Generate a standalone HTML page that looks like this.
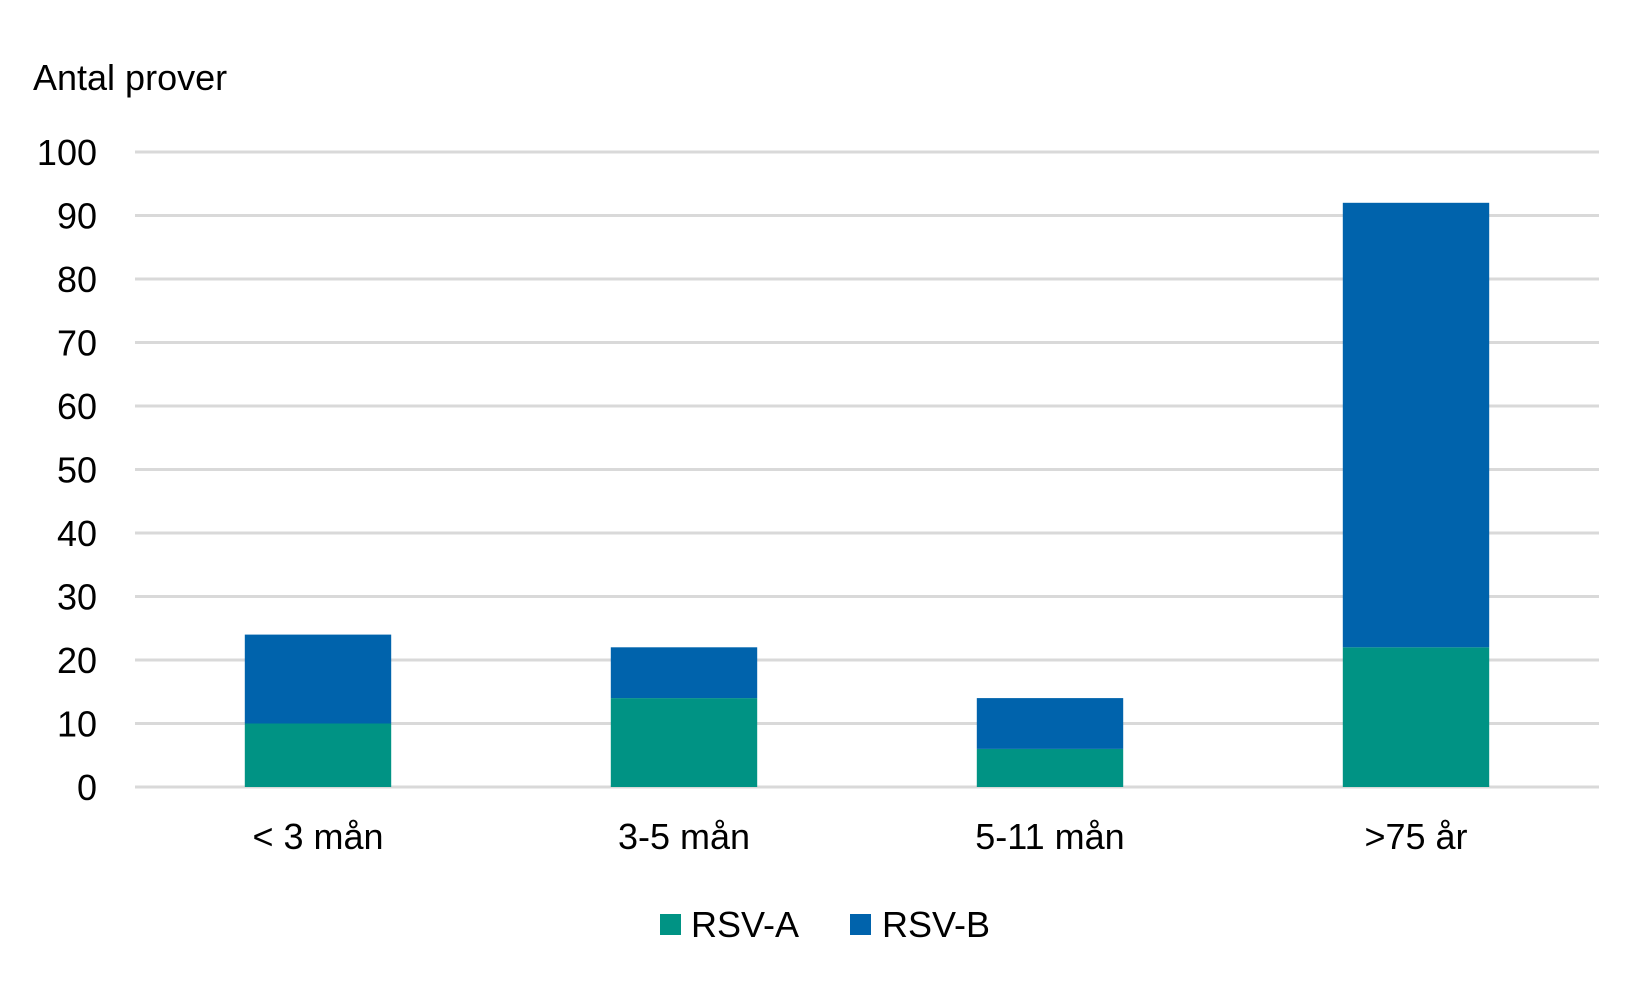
<!DOCTYPE html>
<html><head><meta charset="utf-8"><style>
body{margin:0;background:#fff}
svg text{font-family:"Liberation Sans",Arial,sans-serif;fill:#000}
</style></head><body>
<svg id="chart" width="1650" height="989" xmlns="http://www.w3.org/2000/svg">
<text x="33" y="90" font-size="36">Antal prover</text>
<g id="grid"></g><g id="bars"></g><g id="xl"></g>
<g>
<rect x="660" y="914" width="21" height="21" fill="#009384"/>
<text x="691" y="937" font-size="36">RSV-A</text>
<rect x="850" y="914" width="21" height="21" fill="#0063AC"/>
<text x="882" y="937" font-size="36">RSV-B</text>
</g>
</svg>
<script>
const categories=["< 3 mån","3-5 mån","5-11 mån",">75 år"];
const rsvA=[10,14,6,22];
const rsvB=[14,8,8,70];
const yTicks=[0,10,20,30,40,50,60,70,80,90,100];
const NS="http://www.w3.org/2000/svg";
const x0=135,x1=1599,yBase=787,yTop=152,yMax=100;
const y=v=>yBase-(v/yMax)*(yBase-yTop);
const band=(x1-x0)/categories.length;
const bw=band*0.4;
function mk(t,a,p){const e=document.createElementNS(NS,t);for(const k in a)e.setAttribute(k,a[k]);p.appendChild(e);return e;}
const g=document.getElementById('grid'),b=document.getElementById('bars'),xl=document.getElementById('xl');
yTicks.forEach(v=>{
 const l=mk('line',{x1:x0,x2:x1,y1:y(v),y2:y(v),stroke:'#d9d9d9','stroke-width':3},g);
 
 
 const t=mk('text',{x:97,y:y(v)+13,'text-anchor':'end','font-size':36},g);
 t.textContent=v;
 
 
});
categories.forEach((c,i)=>{
 const cx=x0+band*(i+0.5);
 const ra=mk('rect',{x:cx-bw/2,y:y(rsvA[i]),width:bw,height:y(0)-y(rsvA[i]),fill:'#009384'},b);
 
 
 const tot=rsvA[i]+rsvB[i];
 const rb=mk('rect',{x:cx-bw/2,y:y(tot),width:bw,height:y(rsvA[i])-y(tot),fill:'#0063AC'},b);
 
 
 const t=mk('text',{x:cx,y:849,'text-anchor':'middle','font-size':36},xl);
 t.textContent=c;
 
 
});
</script>
</body></html>
